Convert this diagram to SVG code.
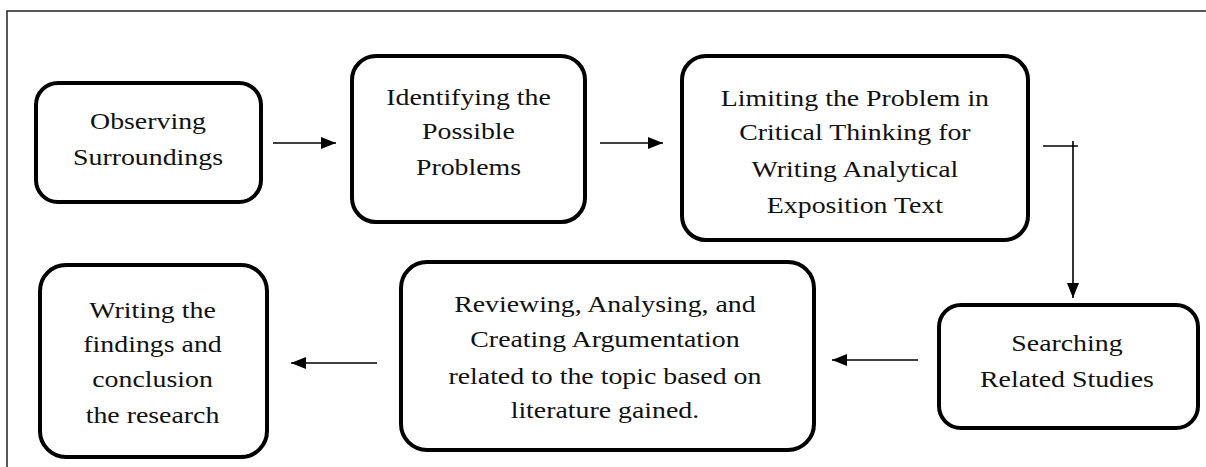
<svg xmlns="http://www.w3.org/2000/svg" width="1206" height="467" viewBox="0 0 1206 467">
<style>
.box{fill:#fff;stroke:#000;stroke-width:4}
.t{font-family:'Liberation Serif','Times New Roman',Times,'DejaVu Serif',serif;font-size:24px;fill:#111;text-anchor:middle}
.c{fill:none;stroke:#000;stroke-width:1.6}
.frame{fill:none;stroke:#222;stroke-width:1.5}
</style>
<defs>
<marker id="ah" markerUnits="userSpaceOnUse" markerWidth="16" markerHeight="14" refX="15" refY="7" orient="auto">
<path d="M0,1 L15,7 L0,13 Z" fill="#000"/>
</marker>
</defs>
<rect width="1206" height="467" fill="#fff"/>
<path class="frame" d="M7,467 V11 H1206"/>
<g id="n1">
<rect class="box" x="36" y="83" width="225" height="119" rx="22"/>
<g transform="scale(1.16,1)"><text class="t" font-family="Liberation Serif, serif"><tspan x="127.6" y="129">Observing</tspan><tspan x="127.6" y="165">Surroundings</tspan></text></g>
</g>
<g id="n2">
<rect class="box" x="352" y="56" width="233" height="166" rx="24"/>
<g transform="scale(1.16,1)"><text class="t" font-family="Liberation Serif, serif"><tspan x="403.9" y="105">Identifying the</tspan><tspan x="403.9" y="139">Possible</tspan><tspan x="403.9" y="175">Problems</tspan></text></g>
</g>
<g id="n3">
<rect class="box" x="682" y="56" width="346" height="184" rx="24"/>
<g transform="scale(1.16,1)"><text class="t" font-family="Liberation Serif, serif"><tspan x="737" y="106">Limiting the Problem in</tspan><tspan x="737" y="140">Critical Thinking for</tspan><tspan x="737" y="177">Writing Analytical</tspan><tspan x="737" y="213">Exposition Text</tspan></text></g>
</g>
<g id="n4">
<rect class="box" x="939" y="305" width="259" height="123" rx="22"/>
<g transform="scale(1.16,1)"><text class="t" font-family="Liberation Serif, serif"><tspan x="919.8" y="351">Searching</tspan><tspan x="919.8" y="387">Related Studies</tspan></text></g>
</g>
<g id="n5">
<rect class="box" x="401" y="262" width="413" height="188" rx="26"/>
<g transform="scale(1.16,1)"><text class="t" font-family="Liberation Serif, serif"><tspan x="521.5" y="312">Reviewing, Analysing, and</tspan><tspan x="521.5" y="347">Creating Argumentation</tspan><tspan x="521.5" y="384">related to the topic based on</tspan><tspan x="521.5" y="418">literature gained.</tspan></text></g>
</g>
<g id="n6">
<rect class="box" x="40" y="265" width="227" height="192" rx="26"/>
<g transform="scale(1.16,1)"><text class="t" font-family="Liberation Serif, serif"><tspan x="131.5" y="318">Writing the</tspan><tspan x="131.5" y="352">findings and</tspan><tspan x="131.5" y="387">conclusion</tspan><tspan x="131.5" y="423">the research</tspan></text></g>
</g>
<g id="connectors">
<path class="c" d="M273,143 H336" marker-end="url(#ah)"/>
<path class="c" d="M600,143 H663" marker-end="url(#ah)"/>
<path class="c" d="M1073,146 V298" marker-end="url(#ah)"/>
<path class="c" d="M1043,146 H1078 M1073,141 V146"/>
<path class="c" d="M918,360 H832" marker-end="url(#ah)"/>
<path class="c" d="M377,363 H291" marker-end="url(#ah)"/>
</g>
</svg>
